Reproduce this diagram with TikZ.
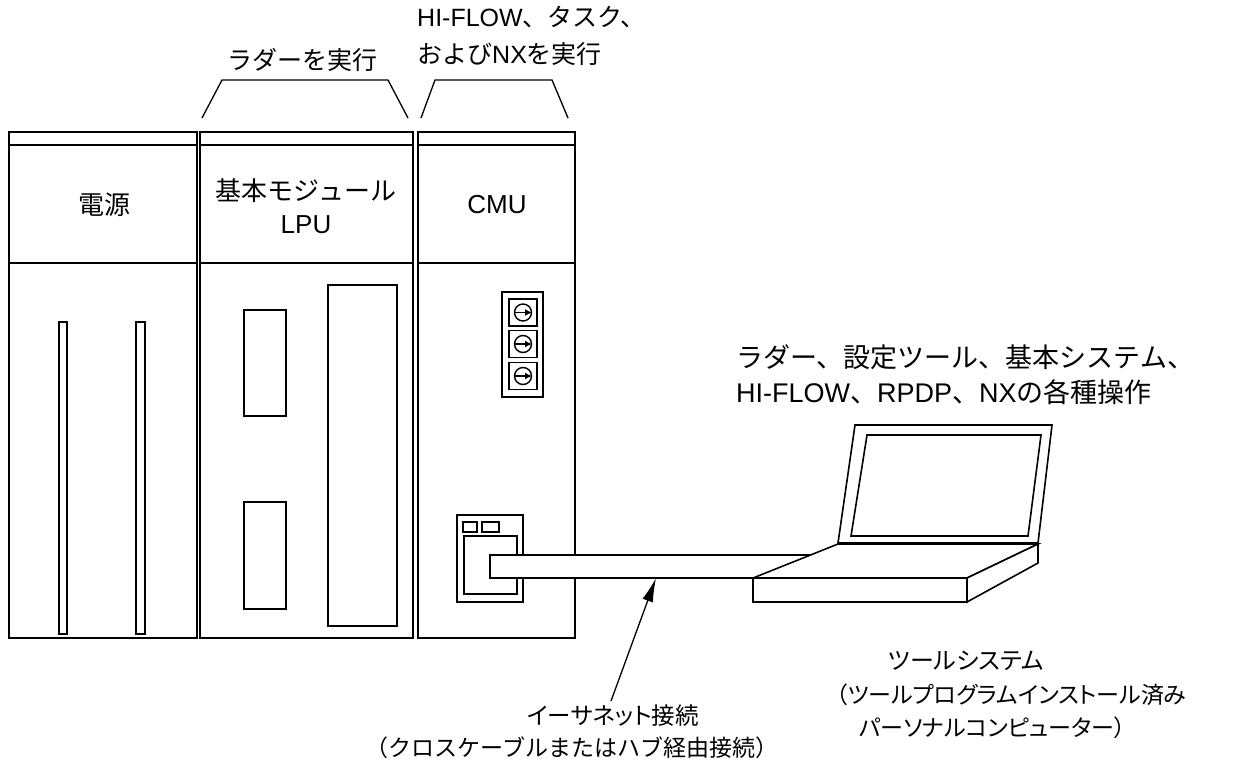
\documentclass[tikz,border=0pt]{standalone}
\usepackage{fontspec}
\setmainfont{Liberation Sans}
\newfontfamily\jp{Noto Sans CJK JP}
\newfontfamily\jpp[RawFeature=+palt]{Noto Sans CJK JP}
\newcommand\lat[1]{{\rmfamily #1}}
\usetikzlibrary{arrows.meta}
\tikzset{
  module/.style={draw, line width=2pt},
  strip/.style={draw, line width=1.4pt},
  part/.style={draw, line width=1.4pt},
  brace/.style={draw, line width=1.3pt},
  pc/.style={draw, fill=white, line width=1.6pt},
  txt/.style={font=\jp\fontsize{25}{37}\selectfont, inner sep=0pt},
  pointer/.style={draw, line width=1.3pt, -{Latex[length=24pt,width=11pt]}}
}
\begin{document}
\begin{tikzpicture}[x=1pt,y=-1pt,line join=miter]
\useasboundingbox (0,0) rectangle (1244,763);

% Modules: power, LPU, CMU
\draw[module] (9,132) rectangle (197,638);
\draw[module] (200,132) rectangle (413,638);
\draw[module] (418,132) rectangle (575,638);
\foreach \xa/\xb in {9/197, 200/413, 418/575} {
  \draw[strip] (\xa,145) -- (\xb,145);
  \draw[module] (\xa,263) -- (\xb,263);
}

% Module names
\node[txt, font=\jp\fontsize{26}{33}\selectfont] (psu) at (104,205) {電源};
\node[txt, align=center, font=\jp\fontsize{26}{33}\selectfont] (lpu) at (306,206)
  {基本モジュール\\\lat{LPU}};
\node[txt, font=\rmfamily\fontsize{26}{33}\selectfont] (cmu) at (497,205) {CMU};

% Power slots
\draw[part] (59,322) rectangle (67,634);
\draw[part] (136,322) rectangle (145,634);

% LPU windows
\draw[part] (244,310) rectangle (286,416);
\draw[part] (244,502) rectangle (286,609);
\draw[part] (328,285) rectangle (397,626);

% Rotary switches
\draw[part] (502,292) rectangle (543,397);
\foreach \y in {312.5, 344, 376} {
  \draw[part] (509,\y-13.5) rectangle (537,\y+13.5);
  \draw[line width=1.4pt] (523,\y) circle (8.5);
  \draw[line width=1.3pt, -{Latex[length=7pt,width=7pt]}] (515,\y) -- (532,\y);
}

% Ethernet port
\draw[part] (457,515) rectangle (523,602);
\draw[part] (463,522) rectangle (477,532);
\draw[part] (482,522) rectangle (499,532);
\draw[part] (464,536) rectangle (517,594);

% Brackets over modules
\draw[brace] (202,118) -- (222,80) -- (388,80) -- (408,118);
\draw[brace] (421,118) -- (435,80) -- (552,80) -- (568,118);
\node[txt] (ladder) at (302,60) {ラダーを実行};
\node[txt, align=left, anchor=north west] (tasks) at (417,6)
  {\lat{HI-FLOW}、タスク、\\および\lat{NX}を実行};

% Cable
\node[draw, fill=white, line width=1.6pt, minimum width=420pt, minimum height=23pt,
  inner sep=0pt, anchor=north west] (cable) at (489,554) {};

% Laptop
\draw[pc] (838,543) -- (855,425) -- (1052,425) -- (1038,543) -- cycle;
\draw[pc] (851,536) -- (867,435) -- (1041,435) -- (1028,536) -- cycle;
\draw[pc] (753,578) -- (838,544) -- (1038,544) -- (967,578) -- cycle;
\draw[pc] (753,578) rectangle (967,602);
\draw[pc] (967,578) -- (1038,544) -- (1038,563) -- (967,602) -- cycle;

\node[txt, align=left, anchor=north west, font=\jp\fontsize{27}{35}\selectfont] (ops) at (736,344)
  {ラダー、設定ツール、基本システム、\\\lat{HI-FLOW}、\lat{RPDP}、\lat{NX}の各種操作};
\node[txt, font=\jpp\fontsize{24}{33}\selectfont] (tool) at (966,661) {ツールシステム};
\node[txt, align=left, anchor=west, font=\jpp\fontsize{23}{33}\selectfont] (tooldesc) at (836,711)
  {（ツールプログラムインストール済み\\\hspace{1em}パーソナルコンピューター）};

% Ethernet label and pointer
\node[txt, font=\jpp\fontsize{23.5}{33}\selectfont] (eth) at (613,716) {イーサネット接続};
\node[txt, font=\jp\fontsize{23}{33}\selectfont] (ethnote) at (572,748) {（クロスケーブルまたはハブ経由接続）};
\coordinate (tail) at (611,701);
\draw[pointer] (tail) -- (656,578);

\end{tikzpicture}
\end{document}
